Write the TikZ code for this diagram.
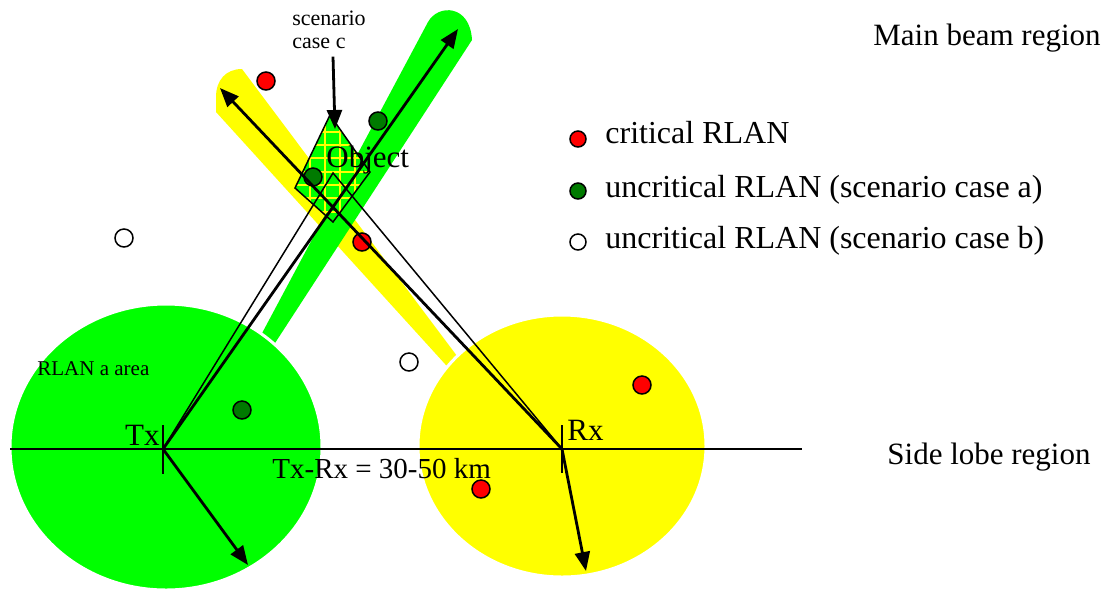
\documentclass[tikz,border=0pt]{standalone}
\usepackage{fontspec}
\setmainfont{Liberation Serif}
\usepackage{xcolor}
\definecolor{beamgreen}{HTML}{00FF00}
\definecolor{beamyellow}{HTML}{FFFF00}
\definecolor{dotred}{HTML}{FF0000}
\definecolor{dotgreen}{HTML}{007A00}
\usepackage{tikz}
\usetikzlibrary{arrows.meta}

\begin{document}
\begin{tikzpicture}[x=0.5pt, y=-0.5pt, >={Triangle[length=9.5pt, width=7.5pt]},
  bigtext/.style={inner sep=0pt, font=\fontsize{15.5}{18}\selectfont},
  legtext/.style={inner sep=0pt, font=\fontsize{16}{19}\selectfont},
  smalltext/.style={inner sep=0pt, font=\fontsize{11}{11.5}\selectfont},
  rlandot/.style={circle, draw=black, line width=0.75pt, minimum size=9pt, inner sep=0pt},
  critdot/.style={rlandot, fill=dotred},
  okdot/.style={rlandot, fill=dotgreen},
  freedot/.style={rlandot, fill=white},
  beamarrow/.style={->, line width=1.4pt},
  thinline/.style={line width=0.75pt},
  gridline/.style={beamyellow, line width=0.6pt}]

  \useasboundingbox (0,0) rectangle (1114,591);

  % Tx, Rx and beam ends
  \coordinate (tx) at (163,449);
  \coordinate (rx) at (562,449);
  \coordinate (apex) at (333,173);
  \coordinate (txbeam) at (458,29);
  \coordinate (rxbeam) at (220,88);
  \coordinate (txlobe) at (248,565);
  \coordinate (rxlobe) at (586,571);
  \coordinate (axisleft) at (10,449);
  \coordinate (axisright) at (802,449);
  \coordinate (objtop) at (335,129);

  % main beams
  \fill[beamyellow] (465,386) -- (216,112) -- (216,97)
    .. controls (216,80) and (226,69) .. (242,69) -- (475,380) -- cycle;
  \fill[beamgreen] (252,352) -- (428,22)
    .. controls (438,4) and (470,4) .. (472,40) -- (264,360) -- cycle;

  % RLAN areas
  \fill[beamgreen, draw=white, line width=1.5pt] (166,447) ellipse [x radius=156, y radius=143];
  \fill[beamyellow, draw=white, line width=1.5pt] (562,446) ellipse [x radius=144, y radius=131];

  % object
  \begin{scope}
    \clip (330,115) -- (370,172) -- (333,222) -- (295,188) -- cycle;
    \fill[beamgreen] (290,110) rectangle (375,225);
    \foreach \gx in {310,325,340,355}
      \draw[gridline] (\gx,110) -- (\gx,225);
    \foreach \gy in {132,145,158,172,185,198,212}
      \draw[gridline] (290,\gy) -- (375,\gy);
  \end{scope}
  \draw[thinline] (330,115) -- (370,172) -- (333,222) -- (295,188) -- cycle;

  % RLANs
  \node[critdot] (crit1) at (266,81) {};
  \node[critdot] (crit2) at (362,242) {};
  \node[critdot] (crit3) at (642,385) {};
  \node[critdot] (crit4) at (481,489) {};
  \node[okdot] (ok1) at (378,121) {};
  \node[okdot] (ok2) at (313,177) {};
  \node[okdot] (ok3) at (242,410) {};
  \node[freedot] (free1) at (124,238) {};
  \node[freedot] (free2) at (409,362) {};

  % links
  \draw[line width=1pt] (axisleft) -- (axisright);
  \draw[line width=1pt] (tx) ++(0,-24) -- ++(0,49);
  \draw[line width=1pt] (rx) ++(0,-24) -- ++(0,48);
  \draw[thinline] (tx) -- (apex) -- (rx);
  \draw[beamarrow] (tx) -- (txbeam);
  \draw[beamarrow] (rx) -- (rxbeam);
  \draw[beamarrow] (tx) -- (txlobe);
  \draw[beamarrow] (rx) -- (rxlobe);

  % labels
  \node[bigtext, anchor=base east] (txlabel) at (160,445) {Tx};
  \node[bigtext, anchor=base west] (rxlabel) at (567,440) {Rx};
  \node[bigtext, anchor=base west] (objlabel) at (326,167) {Object};
  \node[bigtext, anchor=base west, font=\fontsize{14.5}{17}\selectfont] (distlabel) at (272,478) {Tx-Rx = 30-50 km};
  \node[smalltext, anchor=base west, font=\fontsize{10.5}{12}\selectfont] (arealabel) at (37,375) {RLAN a area};
  \node[bigtext, anchor=base west] (mainlabel) at (873,45) {Main beam region};
  \node[bigtext, anchor=base west] (sidelabel) at (887,464) {Side lobe region};
  \node[smalltext, anchor=base west, align=left] (scenlabel) at (292,48) {scenario\\case c};
  \draw[beamarrow] (scenlabel.south -| 333,0) ++(0,8) -- (objtop);

  % legend
  \node[critdot, minimum size=8pt] (legcrit) at (578,139) {};
  \node[okdot, minimum size=8pt] (legok) at (578,191) {};
  \node[freedot, minimum size=8pt] (legfree) at (578,242) {};
  \node[legtext, anchor=base west] (legcrittext) at (605,143) {critical RLAN};
  \node[legtext, anchor=base west] (legoktext) at (605,197) {uncritical RLAN (scenario case a)};
  \node[legtext, anchor=base west] (legfreetext) at (605,248) {uncritical RLAN (scenario case b)};

\end{tikzpicture}
\end{document}
